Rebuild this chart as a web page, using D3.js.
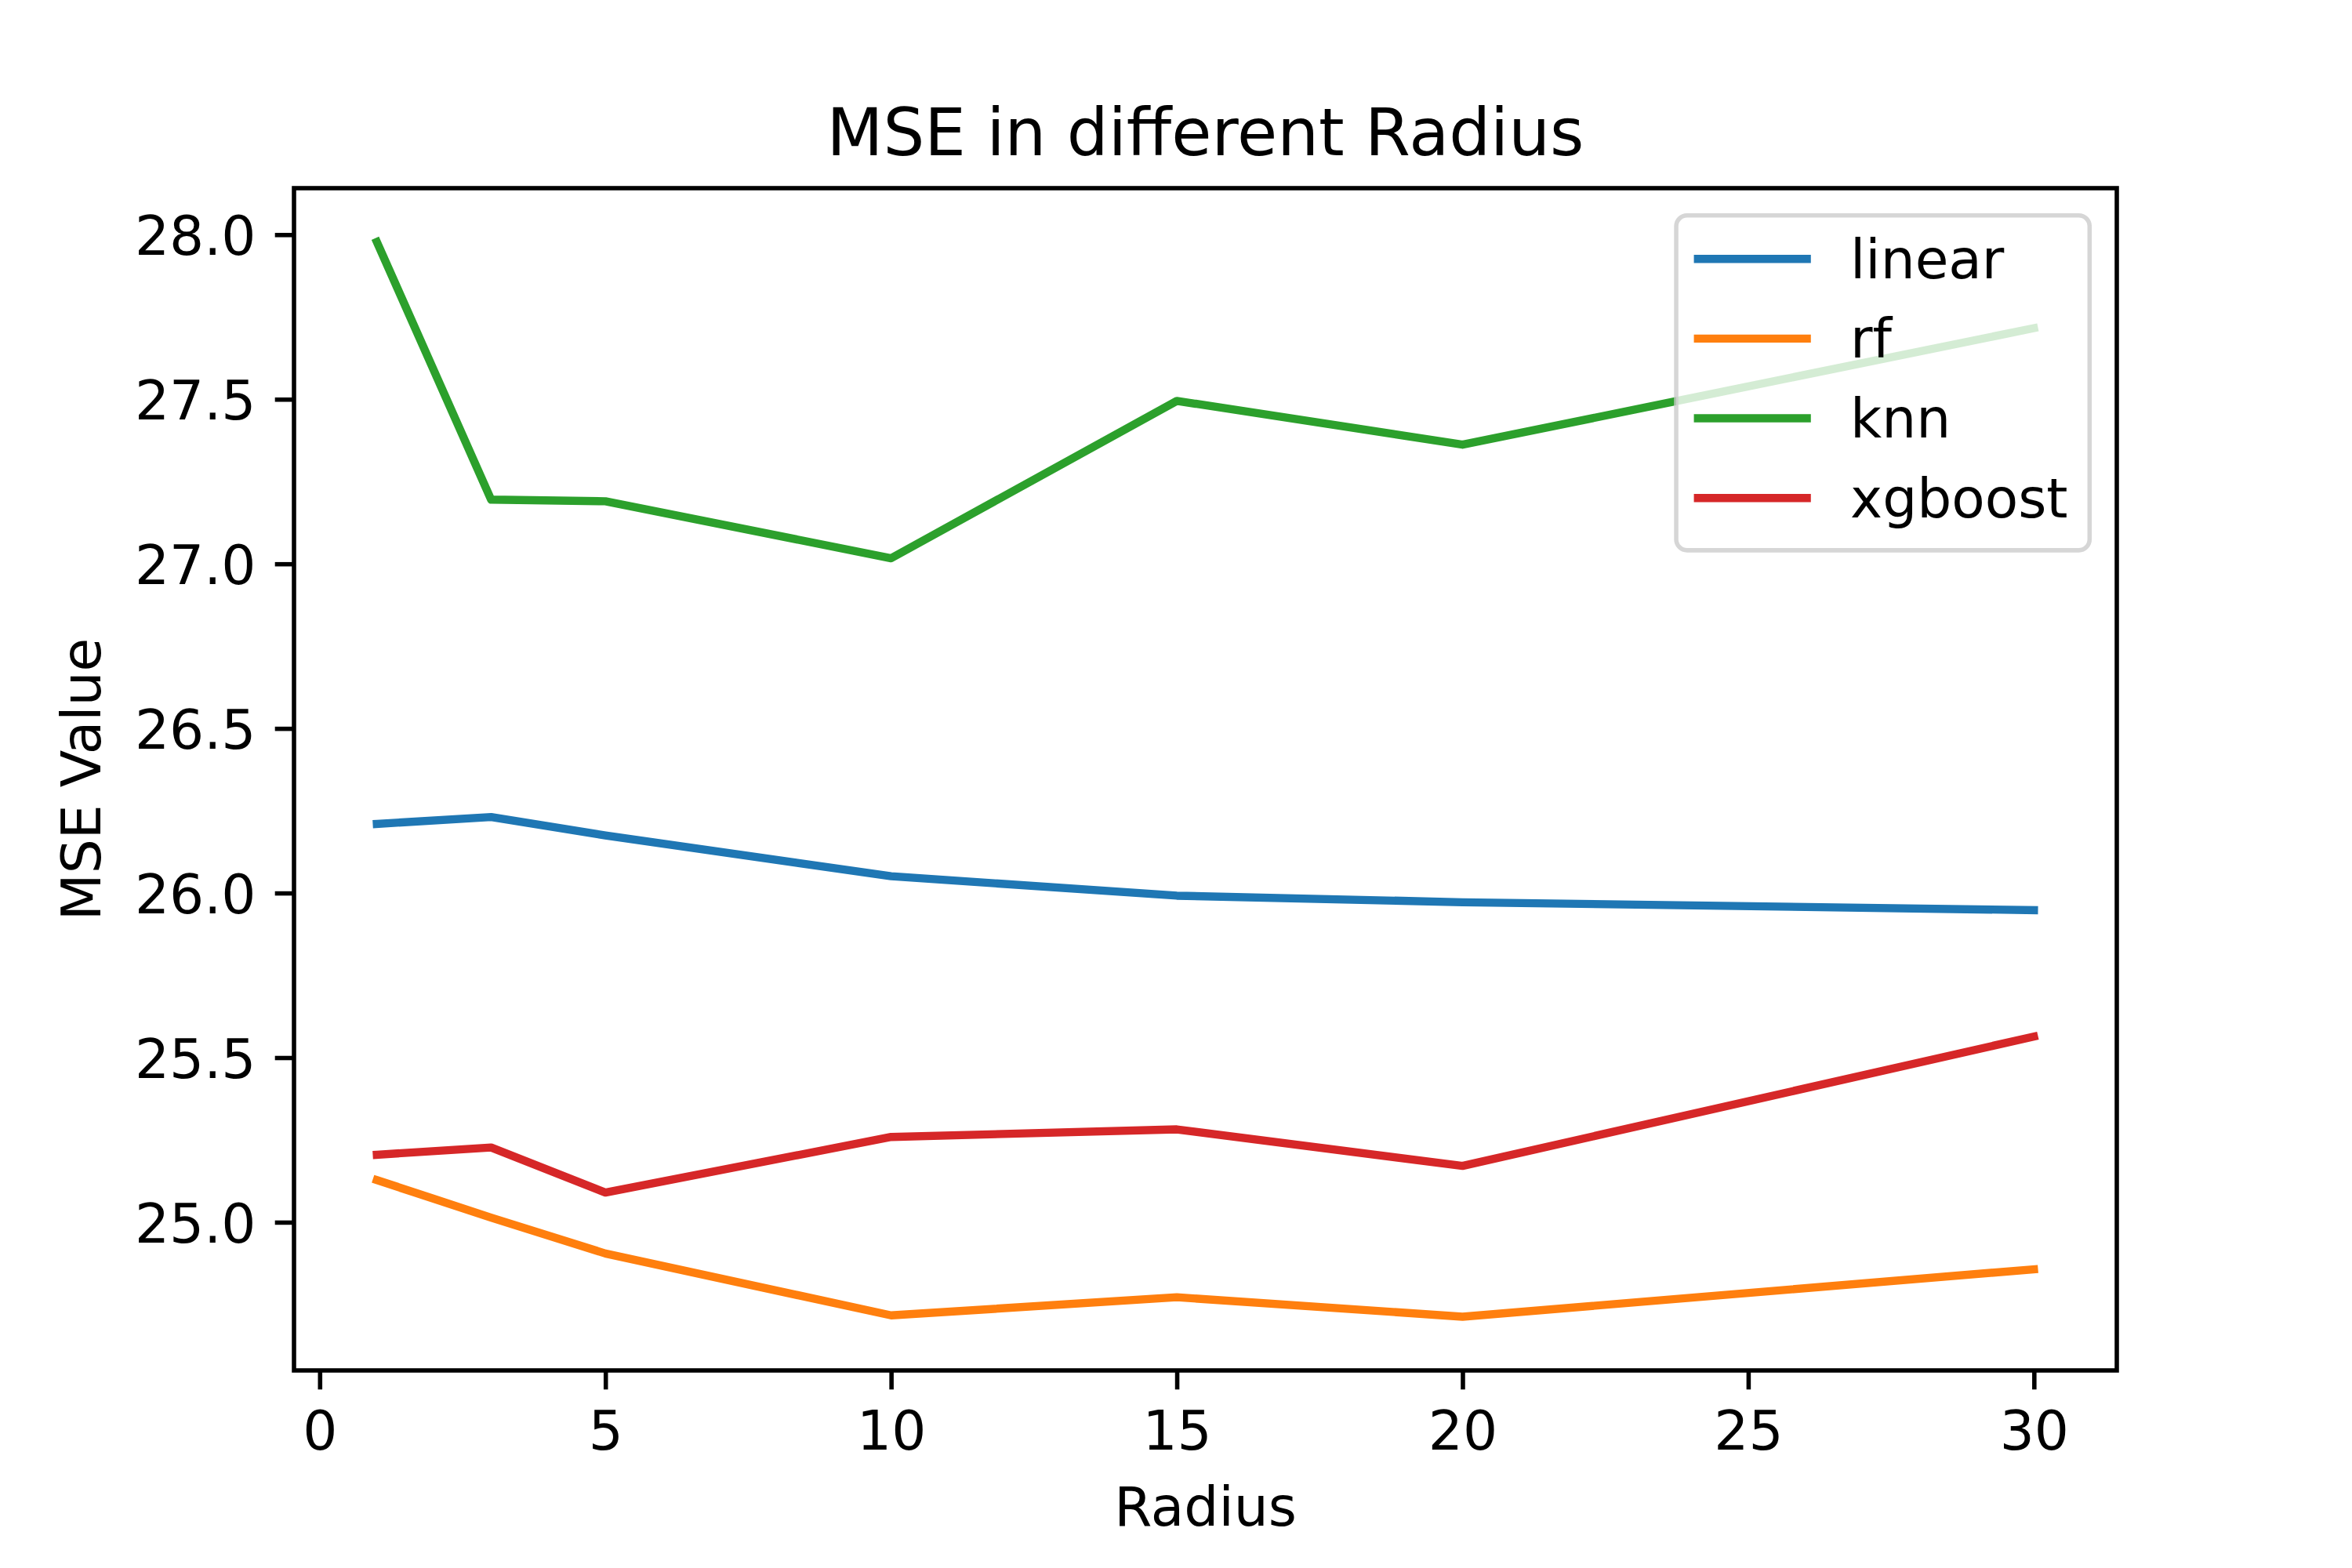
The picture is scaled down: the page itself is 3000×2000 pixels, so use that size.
<!DOCTYPE html>
<html>
<head>
<meta charset="utf-8">
<script src="https://cdn.jsdelivr.net/npm/d3@7"></script>
<style>
  html, body { margin: 0; padding: 0; background: #ffffff; }
  svg { display: block; }
  text { font-family: "DejaVu Sans", sans-serif; fill: #000; }
</style>
</head>
<body>
<script>
// ---- data ----
const radius = [1, 3, 5, 10, 15, 20, 30];
const linear = [26.210, 26.231, 26.175, 26.051, 25.992, 25.972, 25.948];
const rf = [25.128, 25.014, 24.905, 24.717, 24.772, 24.713, 24.857];
const knn = [27.978, 27.195, 27.190, 27.017, 27.495, 27.362, 27.716];
const xgboost = [25.205, 25.227, 25.090, 25.259, 25.282, 25.171, 25.564];
const seriesNames = ["linear", "rf", "knn", "xgboost"];
const seriesColors = ["#1f77b4", "#ff7f0e", "#2ca02c", "#d62728"];
const xTicks = [0, 5, 10, 15, 20, 25, 30];
const yTicks = [25.0, 25.5, 26.0, 26.5, 27.0, 27.5, 28.0];
const titleText = "MSE in different Radius";
const xLabelText = "Radius";
const yLabelText = "MSE Value";

// ---- layout ----
const W = 3000, H = 2000;
const m = { left: 375, right: 2700, top: 240, bottom: 1748 };
const fs = 69.4;           // 10pt at 500 dpi
const titleFs = 83.3;      // 12pt
const lw = 10.4;           // 1.5pt
const spineW = 5.56;       // 0.8pt
const tickLen = 24.3, tickPad = 24.3;

const seriesValues = [linear, rf, knn, xgboost];

const svg = d3.select("body").append("svg")
  .attr("width", W).attr("height", H)
  .attr("viewBox", `0 0 ${W} ${H}`);
svg.append("rect").attr("width", W).attr("height", H).attr("fill", "#fff");

// scales with matplotlib-like 5% margins
const xMin = d3.min(radius), xMax = d3.max(radius);
const xm = (xMax - xMin) * 0.05;
const x = d3.scaleLinear().domain([xMin - xm, xMax + xm]).range([m.left, m.right]);
const allY = seriesValues.flat();
const yMin = d3.min(allY), yMax = d3.max(allY);
const ym = (yMax - yMin) * 0.05;
const y = d3.scaleLinear().domain([yMin - ym, yMax + ym]).range([m.bottom, m.top]);

// lines
const lineGen = d3.line().x((d, i) => x(radius[i])).y(d => y(d));
seriesValues.forEach((vals, k) => {
  svg.append("path")
    .datum(vals)
    .attr("d", lineGen)
    .attr("fill", "none")
    .attr("stroke", seriesColors[k])
    .attr("stroke-width", lw)
    .attr("stroke-linejoin", "round")
    .attr("stroke-linecap", "square");
});

// axes via d3 axis
const xAxis = d3.axisBottom(x).tickValues(xTicks).tickFormat(d3.format("d"))
  .tickSizeInner(tickLen).tickSizeOuter(0).tickPadding(tickPad);
const gx = svg.append("g").attr("transform", `translate(0,${m.bottom})`).call(xAxis);
gx.select(".domain").remove();
gx.selectAll(".tick line").attr("stroke", "#000").attr("stroke-width", spineW);
gx.selectAll(".tick text")
  .attr("font-size", fs).attr("font-family", "DejaVu Sans")
  .attr("dy", null).attr("y", tickLen + tickPad + 0.76 * fs)
  .style("fill", "#000");

const yAxis = d3.axisLeft(y).tickValues(yTicks).tickFormat(d3.format(".1f"))
  .tickSizeInner(tickLen).tickSizeOuter(0).tickPadding(tickPad);
const gy = svg.append("g").attr("transform", `translate(${m.left},0)`).call(yAxis);
gy.select(".domain").remove();
gy.selectAll(".tick line").attr("stroke", "#000").attr("stroke-width", spineW);
gy.selectAll(".tick text")
  .attr("font-size", fs).attr("font-family", "DejaVu Sans")
  .attr("dy", null).attr("y", 0.3645 * fs)
  .style("fill", "#000");

// spines (frame)
svg.append("rect")
  .attr("x", m.left).attr("y", m.top)
  .attr("width", m.right - m.left).attr("height", m.bottom - m.top)
  .attr("fill", "none").attr("stroke", "#000").attr("stroke-width", spineW)
  .attr("stroke-linejoin", "miter");

// title
svg.append("text")
  .attr("x", (m.left + m.right) / 2).attr("y", m.top - 41.7)
  .attr("text-anchor", "middle").attr("font-size", titleFs)
  .text(titleText);

// x label
svg.append("text")
  .attr("x", (m.left + m.right) / 2).attr("y", 1946)
  .attr("text-anchor", "middle").attr("font-size", fs)
  .text(xLabelText);

// y label
svg.append("text")
  .attr("transform", `translate(128,${(m.top + m.bottom) / 2}) rotate(-90)`)
  .attr("text-anchor", "middle").attr("font-size", fs)
  .text(yLabelText);

// legend
const pad = 0.5 * fs;           // borderaxespad
const borderPad = 0.4 * fs;
const handleLen = 2.0 * fs;
const handleTextPad = 0.8 * fs;
const rowStep = 1.465 * fs;
const firstRow = 0.8 * fs;

const lg = svg.append("g");
const frame = lg.append("rect");
const texts = [];
seriesNames.forEach((name, k) => {
  const t = lg.append("text").attr("font-size", fs).text(name);
  texts.push(t);
});
const maxTextW = d3.max(texts, t => t.node().getComputedTextLength());
const boxW = 2 * borderPad + handleLen + handleTextPad + maxTextW;
const boxH = firstRow + rowStep * (seriesNames.length - 1) + 0.96 * fs;
const bx = m.right - pad - boxW;
const by = m.top + pad;
frame.attr("x", bx).attr("y", by).attr("width", boxW).attr("height", boxH)
  .attr("rx", 0.2 * fs).attr("ry", 0.2 * fs)
  .attr("fill", "#ffffff").attr("fill-opacity", 0.8)
  .attr("stroke", "#cccccc").attr("stroke-opacity", 0.8).attr("stroke-width", 5.56);
seriesNames.forEach((name, k) => {
  const ry = by + firstRow + k * rowStep;
  const hx0 = bx + borderPad;
  lg.append("line")
    .attr("x1", hx0).attr("x2", hx0 + handleLen)
    .attr("y1", ry).attr("y2", ry)
    .attr("stroke", seriesColors[k]).attr("stroke-width", lw)
    .attr("stroke-linecap", "square");
  texts[k].attr("x", hx0 + handleLen + handleTextPad).attr("y", ry + 24.5);
});
</script>
</body>
</html>
